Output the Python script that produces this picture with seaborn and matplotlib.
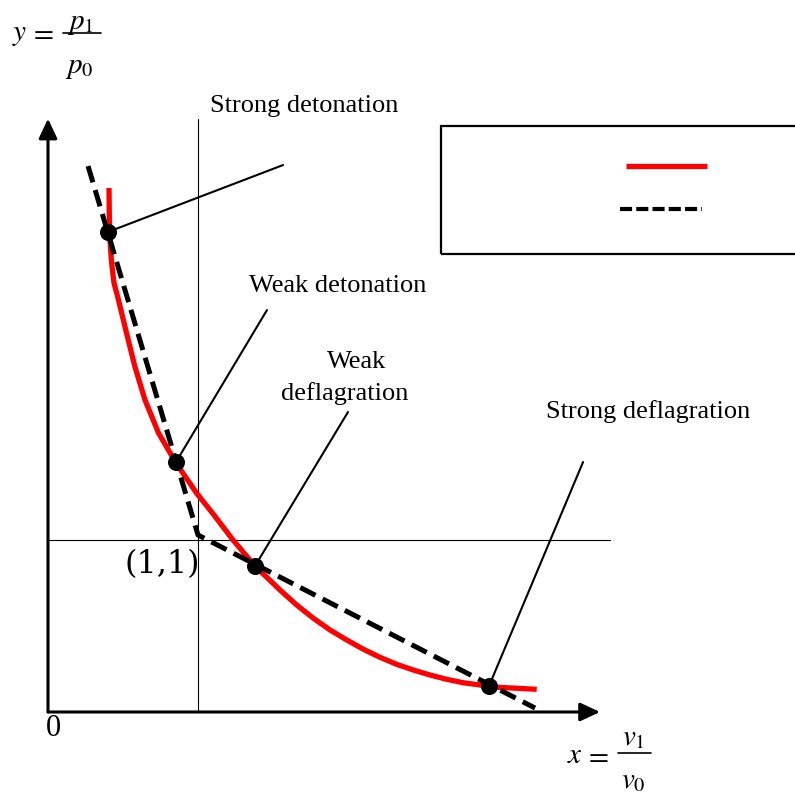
import numpy as np
import pandas as pd
import seaborn as sns
import matplotlib
matplotlib.use("Agg")
import matplotlib.pyplot as plt
from matplotlib.patches import Rectangle, FancyArrowPatch
from matplotlib.lines import Line2D

# ---------------- data ----------------
# Hugoniot curve (red), in units where the initial state is (1, 1)
hug_x = [0.4067, 0.4087, 0.4133, 0.4233, 0.440, 0.4667, 0.5233, 0.580, 0.6467, 0.7367,
         0.8533, 0.990, 1.1067, 1.2333, 1.380, 1.5467, 1.658, 1.769, 1.880, 1.991,
         2.102, 2.213, 2.325, 2.436, 2.547, 2.658, 2.769, 2.880, 2.991, 3.258]
hug_y = [3.0465, 2.8895, 2.7442, 2.6163, 2.4942, 2.4070, 2.2035, 2.0058, 1.8140, 1.6221,
         1.4477, 1.2733, 1.1453, 1.000, 0.8488, 0.7093, 0.622, 0.545, 0.477, 0.419,
         0.365, 0.318, 0.277, 0.244, 0.215, 0.190, 0.170, 0.157, 0.144, 0.132]

# Rayleigh lines (black dashed), through the initial state
ray_x = [0.267, 1.000, 3.247]
ray_y = [3.174, 1.029, 0.023]

# marked states on the Hugoniot
state_x = [0.400, 0.853, 1.380, 2.940]
state_y = [2.791, 1.453, 0.849, 0.151]

# leader line ends
leader_x = [1.567, 1.460, 2.000, 3.567]
leader_y = [3.180, 2.337, 1.744, 1.453]

# labels (text, x centre, baseline y)
label_text = ["Strong detonation", "Weak detonation", "Weak", "deflagration", "Strong deflagration"]
label_x = [1.707, 1.933, 2.060, 1.980, 4.000]
label_y = [3.488, 2.442, 2.000, 1.814, 1.709]

# axes extents
x_axis_end = 3.68
y_axis_end = 3.45
ref_x_end = 3.747

# ---------------- styling ----------------
sns.set_theme(style="white")
plt.rcParams["font.family"] = ["Liberation Serif", "DejaVu Serif"]
plt.rcParams["mathtext.fontset"] = "stix"
plt.rcParams["text.color"] = "black"

W, H = 795, 796
fig = plt.figure(figsize=(W / 100, H / 100), dpi=100)
ax = fig.add_axes([0, 0, 1, 1])

# reference lines through (1,1)
ax.plot([1, 1], [0, y_axis_end], color="black", lw=0.8, zorder=1)
ax.plot([0, ref_x_end], [1, 1], color="black", lw=0.8, zorder=1)

# axes with arrows
for end in [(x_axis_end, 0), (0, y_axis_end)]:
    arr = FancyArrowPatch((0, 0), end, arrowstyle="-|>,head_length=0.6,head_width=0.28",
                          mutation_scale=20, lw=2.2, color="black",
                          shrinkA=0, shrinkB=0, zorder=2)
    ax.add_patch(arr)

# leader lines
for sx, sy, lx, ly in zip(state_x, state_y, leader_x, leader_y):
    ax.plot([sx, lx], [sy, ly], color="black", lw=1.5, zorder=2)

# Hugoniot curve
df_h = pd.DataFrame({"x": hug_x, "y": hug_y})
sns.lineplot(data=df_h, x="x", y="y", sort=False, color="red", lw=3.8,
             ax=ax, zorder=3, estimator=None, solid_joinstyle="round",
             solid_capstyle="butt")

# Rayleigh lines
df_r = pd.DataFrame({"x": ray_x, "y": ray_y})
sns.lineplot(data=df_r, x="x", y="y", sort=False, color="black", lw=3.6,
             ls=(0, (3.4, 1.6)), ax=ax, zorder=4, estimator=None)

# states
df_s = pd.DataFrame({"x": state_x, "y": state_y})
sns.scatterplot(data=df_s, x="x", y="y", color="black", s=150, ax=ax,
                zorder=5, edgecolor="black", linewidth=0)

ax.set_xlim(-0.32, 4.98)
ax.set_ylim(-0.4884, 4.1395)
ax.axis("off")

# labels
for name, tx, ty in zip(label_text, label_x, label_y):
    ax.text(tx, ty, name, ha="center", va="baseline", fontsize=19,
            color="black", zorder=6)

ax.text(0.76, 0.855, "(1,1)", ha="center", va="center", fontsize=23,
        family=["DejaVu Serif"], color="black", zorder=6)
ax.text(0.037, -0.095, "0", ha="center", va="center", fontsize=22,
        color="black", zorder=6)


def ftext(px, py, s, ha="left"):
    fig.text(px / W, 1 - py / H, s, ha=ha, va="baseline", fontsize=21, color="black")


def fbar(x0, x1, py):
    fig.add_artist(Line2D([x0 / W, x1 / W], [1 - py / H, 1 - py / H],
                          transform=fig.transFigure, color="black", lw=1.2))


# y = p1 / p0
ftext(12, 40, r"$y$")
ftext(29, 40, r"$=$")
fbar(63, 101, 33)
ftext(80, 29, r"$p_1$", ha="center")
ftext(79, 73, r"$p_0$", ha="center")

# x = v1 / v0
ftext(567, 763, r"$x$")
ftext(584, 763, r"$=$")
fbar(618, 651, 753)
ftext(633, 745, r"$v_1$", ha="center")
ftext(633, 788, r"$v_0$", ha="center")

# legend box (labels absent in the reference)
ax.add_patch(Rectangle((2.62, 2.663), 2.6, 0.744, fill=False, ec="black",
                       lw=1.6, clip_on=False, zorder=6))
ax.plot([3.853, 4.393], [3.174, 3.174], color="red", lw=3.8, solid_capstyle="butt", zorder=7)
ax.plot([3.813, 4.360], [2.924, 2.924], color="black", lw=3.0,
        ls=(0, (2.9, 1.0)), zorder=7)

fig.savefig("out.png", dpi=100)
